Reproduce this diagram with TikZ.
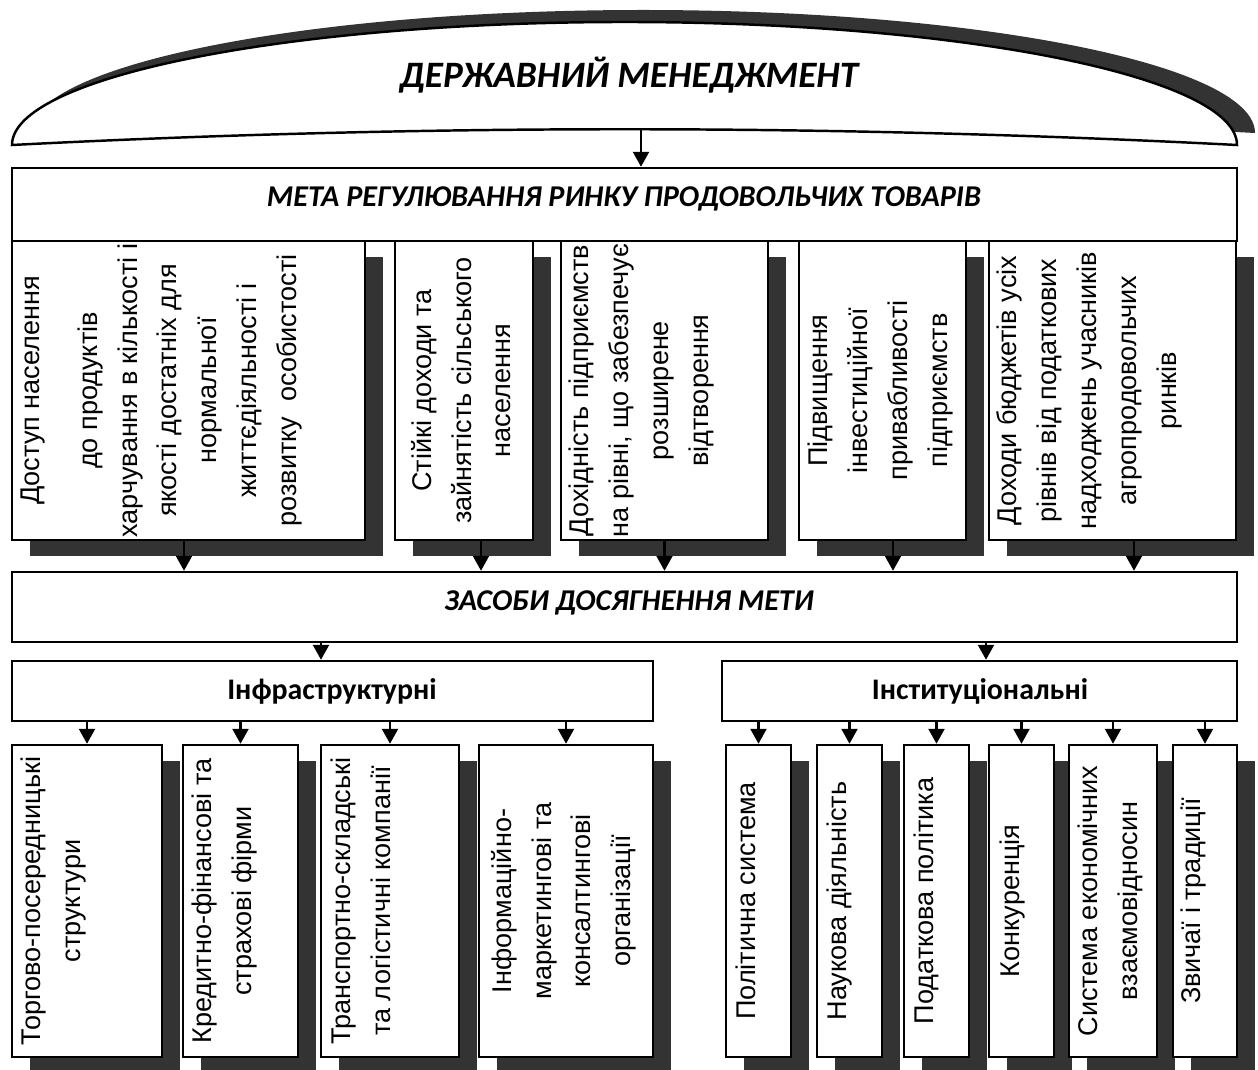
\documentclass[tikz,border=0pt]{standalone}
\usepackage{fontspec}
\setmainfont{Liberation Sans}
\newfontfamily\calib{Carlito}
\usetikzlibrary{arrows.meta,fit,shadows}
\definecolor{shade}{gray}{0.2}
\newcommand\vtfont{\fontsize{15.4}{22.7}\selectfont}
\tikzset{
  box/.style={draw, line width=1.4pt, fill=white, inner sep=0pt},
  shbox/.style={box, drop shadow={shadow xshift=3.5mm, shadow yshift=-3.2mm, opacity=1, fill=shade}},
  vtext/.style={rotate=90, anchor=north, align=center, inner sep=0pt, font=\vtfont},
  head/.style={font=\calib\bfseries\itshape\fontsize{17.2}{20}\selectfont},
  sub/.style={font=\calib\bfseries\fontsize{17}{20}\selectfont},
  arr/.style={line width=1.3pt, -{Triangle[length=3mm, width=3.2mm]}}
}
\begin{document}
\begin{tikzpicture}[x=0.2mm, y=-0.2mm]
\useasboundingbox (0,0) rectangle (1258,1070);

% arch on top
\draw[line width=1.4pt, fill=white, drop shadow={shadow xshift=3.6mm, shadow yshift=2.4mm, opacity=1, fill=shade}]
  (12,145) .. controls (12,77) and (287,22) .. (625,22)
  .. controls (963,22) and (1237,77) .. (1237,145)
  .. controls (830,124) and (420,124) .. (12,145) -- cycle;
\node[font=\calib\bfseries\itshape\fontsize{21.2}{26}\selectfont] (T) at (629,75) {ДЕРЖАВНИЙ МЕНЕДЖМЕНТ};
\coordinate (archbot) at (641,129);

% goal
\node[box, fit={(12,168) (1237,241)}] (M) {};
\node[head] (Mt) at (624,199) {МЕТА РЕГУЛЮВАННЯ РИНКУ ПРОДОВОЛЬЧИХ ТОВАРІВ};

\node[shbox, fit={(12,241) (365,540)}] (G1) {};
\node[shbox, fit={(395,241) (533,540)}] (G2) {};
\node[shbox, fit={(561,241) (768,540)}] (G3) {};
\node[shbox, fit={(799,241) (966,540)}] (G4) {};
\node[shbox, fit={(989,241) (1236,540)}] (G5) {};
\node[vtext] (g1) at ([xshift=2mm]G1.west) {Доступ населення\\[10pt] до продуктів\\ харчування в кількості і\\ якості достатніх для\\ нормальної\\ життєдіяльності і\\ розвитку~ особистості};
\node[vtext] (g2) at ([xshift=3.4mm]G2.west) {Стійкі доходи та\\ зайнятість сільського\\ населення};
\node[vtext] (g3) at ([xshift=1.8mm]G3.west) {Дохідність підприємств\\ на рівні, що забезпечує\\ розширене\\ відтворення};
\node[vtext] (g4) at ([xshift=2mm]G4.west) {Підвищення\\ інвестиційної\\ привабливості\\ підприємств};
\node[vtext] (g5) at ([xshift=1.8mm]G5.west) {Доходи бюджетів усіх\\ рівнів від податкових\\ надходжень учасників\\ агропродовольчих\\ ринків};

% means
\node[box, fit={(12,572) (1237,642)}] (Z) {};
\node[head] (Zt) at (629,603) {ЗАСОБИ ДОСЯГНЕННЯ МЕТИ};
\node[box, fit={(12,661) (653,721)}] (I) {};
\node[sub] (It) at (332,691) {Інфраструктурні};
\node[box, fit={(722,661) (1237,721)}] (N) {};
\node[sub] (Nt) at (980,691) {Інституціональні};

\node[shbox, fit={(12,745) (162,1057)}] (B1) {};
\node[shbox, fit={(183,745) (298,1057)}] (B2) {};
\node[shbox, fit={(321,745) (459,1057)}] (B3) {};
\node[shbox, fit={(479,745) (653,1057)}] (B4) {};
\node[vtext] (b1) at ([xshift=2mm]B1.west) {Торгово-посередницькі\\ структури};
\node[vtext] (b2) at ([xshift=2mm]B2.west) {Кредитно-фінансові та\\ страхові фірми};
\node[vtext] (b3) at ([xshift=2.2mm]B3.west) {Транспортно-складські\\ та логістичні компанії};
\node[vtext] (b4) at ([xshift=2.6mm]B4.west) {Інформаційно-\\ маркетингові та\\ консалтингові\\ організації};

\node[shbox, fit={(726,745) (791,1057)}] (N1) {};
\node[shbox, fit={(817,745) (882,1057)}] (N2) {};
\node[shbox, fit={(904,745) (969,1057)}] (N3) {};
\node[shbox, fit={(989,745) (1054,1057)}] (N4) {};
\node[shbox, fit={(1069,745) (1157,1057)}] (N5) {};
\node[shbox, fit={(1173,745) (1237,1057)}] (N6) {};
\node[vtext] (n1) at ([xshift=2.2mm]N1.west) {Політична система};
\node[vtext] (n2) at ([xshift=2.2mm]N2.west) {Наукова діяльність};
\node[vtext] (n3) at ([xshift=2.2mm]N3.west) {Податкова політика};
\node[vtext] (n4) at ([xshift=2.4mm]N4.west) {Конкуренція};
\node[vtext] (n5) at ([xshift=2mm]N5.west) {Система економічних\\ взаємовідносин};
\node[vtext] (n6) at ([xshift=1.8mm]N6.west) {Звичаї і традиції};

% arrows
\draw[arr] (archbot) -- (archbot |- M.north);
\draw[arr] ([xshift=-0.9mm]G1.south) -- ([xshift=-0.9mm]G1.south |- Z.north);
\draw[arr] ([xshift=3.4mm]G2.south) -- ([xshift=3.4mm]G2.south |- Z.north);
\draw[arr] (G3.south) -- (G3.south |- Z.north);
\draw[arr] ([xshift=2.1mm]G4.south) -- ([xshift=2.1mm]G4.south |- Z.north);
\draw[arr] ([xshift=4.3mm]G5.south) -- ([xshift=4.3mm]G5.south |- Z.north);
\draw[arr] ([xshift=-2.3mm]I.north |- Z.south) -- ([xshift=-2.3mm]I.north);
\draw[arr] ([xshift=1.3mm]N.north |- Z.south) -- ([xshift=1.3mm]N.north);
\draw[arr] (B1.north |- I.south) -- (B1.north);
\draw[arr] (B2.north |- I.south) -- (B2.north);
\draw[arr] (B3.north |- I.south) -- (B3.north);
\draw[arr] (B4.north |- I.south) -- (B4.north);
\draw[arr] (N1.north |- N.south) -- (N1.north);
\draw[arr] (N2.north |- N.south) -- (N2.north);
\draw[arr] (N3.north |- N.south) -- (N3.north);
\draw[arr] (N4.north |- N.south) -- (N4.north);
\draw[arr] (N5.north |- N.south) -- (N5.north);
\draw[arr] (N6.north |- N.south) -- (N6.north);
\end{tikzpicture}
\end{document}
